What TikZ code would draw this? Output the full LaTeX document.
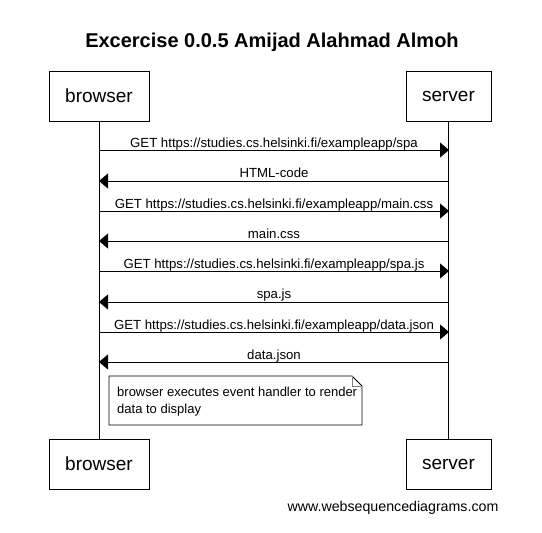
\documentclass[tikz,border=0pt]{standalone}
\usepackage{fontspec}
\setmainfont{Liberation Sans}
\usetikzlibrary{arrows.meta}
\begin{document}
\begin{tikzpicture}[x=1pt,y=-1pt,
  actor/.style={draw,line width=0.8pt,minimum width=100pt,minimum height=50pt,inner sep=0pt,font=\fontsize{19}{22}\selectfont},
  actorS/.style={actor,minimum width=85pt},
  msg/.style={line width=0.8pt,-{Triangle[length=9pt,width=15pt]}},
  lbl/.style={anchor=base,inner sep=0pt,font=\fontsize{13.2}{15}\selectfont},
  life/.style={line width=0.8pt}]
\useasboundingbox (0,0) rectangle (542,533);
\node[font=\bfseries\fontsize{20}{23}\selectfont] (title) at (272,42) {Excercise 0.0.5 Amijad Alahmad Almoh};
\node[actor] (bt) at (99,96) {browser};
\node[actorS] (st) at (448.5,96) {server};
\node[actor] (bb) at (99,464) {browser};
\node[actorS] (sb) at (448.5,464) {server};
\draw[life] (bt.south) -- (bb.north);
\draw[life] (st.south) -- (sb.north);
% message coordinates
\foreach \n/\y in {1/150,2/181,3/211,4/241,5/271,6/302,7/332,8/362}{
  \coordinate (b\n) at (99,\y);
  \coordinate (s\n) at (449,\y);
}
\draw[msg] (b1) -- (s1);
\node[lbl] (l1) at (274,147) {GET https://studies.cs.helsinki.fi/exampleapp/spa};
\draw[msg] (s2) -- (b2);
\node[lbl] (l2) at (274,177) {HTML-code};
\draw[msg] (b3) -- (s3);
\node[lbl] (l3) at (274,208) {GET https://studies.cs.helsinki.fi/exampleapp/main.css};
\draw[msg] (s4) -- (b4);
\node[lbl] (l4) at (274,238) {main.css};
\draw[msg] (b5) -- (s5);
\node[lbl] (l5) at (274,268) {GET https://studies.cs.helsinki.fi/exampleapp/spa.js};
\draw[msg] (s6) -- (b6);
\node[lbl] (l6) at (274,298) {spa.js};
\draw[msg] (b7) -- (s7);
\node[lbl] (l7) at (274,329) {GET https://studies.cs.helsinki.fi/exampleapp/data.json};
\draw[msg] (s8) -- (b8);
\node[lbl] (l8) at (274,359) {data.json};
% note
\draw[fill=white,line width=0.8pt] (109,376) -- (352,376) -- (362,386) -- (362,425) -- (109,425) -- cycle;
\draw[line width=0.6pt,draw=gray] (352,376) -- (352,386) -- (362,386);
\node[anchor=base west,align=left,inner sep=0pt,font=\fontsize{13}{17}\selectfont] (note) at (117,413) {browser executes event handler to render\\data to display};
\node[anchor=base,inner sep=0pt,font=\fontsize{14.2}{16}\selectfont] (footer) at (393,511) {www.websequencediagrams.com};
\end{tikzpicture}
\end{document}
